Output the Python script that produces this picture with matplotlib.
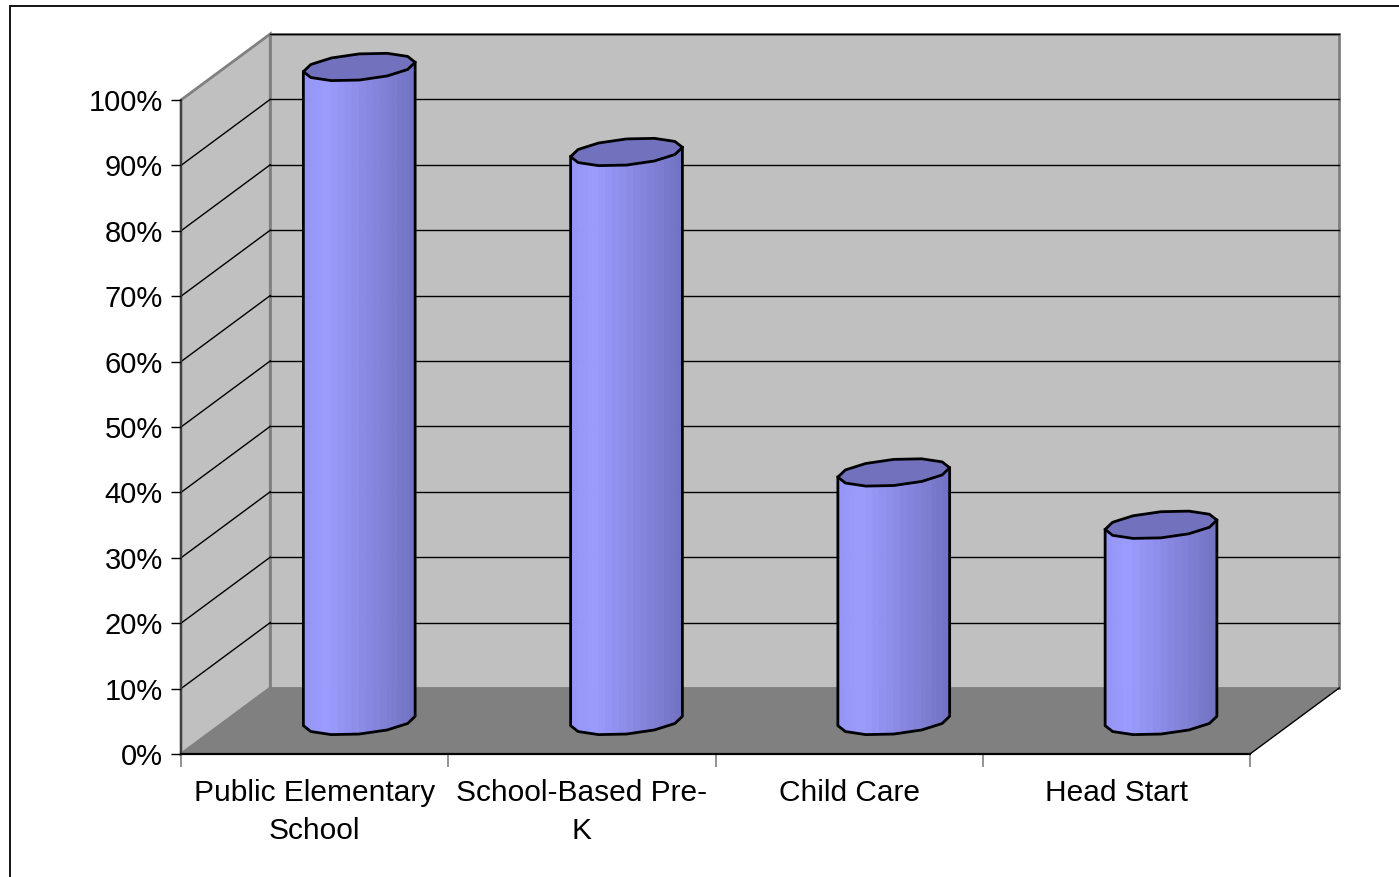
import numpy as np
import matplotlib.pyplot as plt
from matplotlib.patches import Polygon, Rectangle
from matplotlib.colors import to_rgb

# Data
categories = ["Public Elementary\nSchool", "School-Based Pre-\nK", "Child Care", "Head Start"]
values = [100, 87, 38, 30]  # percent
y_ticks = list(range(0, 101, 10))
y_tick_labels = [f"{v}%" for v in y_ticks]

# 3D look (oblique projection expressed in data units)
DX, DY = 0.334, 10.1     # depth offset: categories, percent
R = 0.197                # cylinder radius (category units)
F = 0.21                 # cylinder radius as fraction of depth
N_SIDES = 12

WALL = "#c0c0c0"
FLOOR = "#808080"
TOP = "#7171be"
side_stops = [0.0, 0.2, 1.0]
side_cols = [to_rgb(c) for c in ["#9494f4", "#9c9cff", "#7272c2"]]

plt.rcParams["font.family"] = ["Liberation Sans", "DejaVu Sans"]

fig = plt.figure(figsize=(13.99, 8.77), dpi=100)
W, H = 1399, 877
ax = fig.add_axes([181 / W, 123 / H, 1069 / W, 654 / H])
ax.set_xlim(0, len(categories))
ax.set_ylim(0, 100)
ax.patch.set_visible(False)
ncat = len(categories)

# walls and floor
ax.add_patch(Polygon([(0, 0), (0, 100), (DX, 100 + DY), (DX, DY)], closed=True,
                     fc=WALL, ec="#808080", lw=2, clip_on=False, zorder=0.5))
ax.add_patch(Polygon([(DX, DY), (ncat + DX, DY), (ncat + DX, 100 + DY), (DX, 100 + DY)], closed=True,
                     fc=WALL, ec="#808080", lw=2, clip_on=False, zorder=0.5))
ax.add_patch(Polygon([(0, 0), (ncat, 0), (ncat + DX, DY), (DX, DY)], closed=True,
                     fc=FLOOR, ec="none", clip_on=False, zorder=0.6))
ax.plot([ncat, ncat + DX], [0, DY], color="black", lw=1, clip_on=False, zorder=0.7)

# gridlines across left wall and back wall
for v in y_ticks[1:]:
    if v < 100:
        ax.plot([0, DX], [v, v + DY], color="black", lw=1, clip_on=False, zorder=0.8)
    ax.plot([DX, ncat + DX], [v + DY, v + DY], color="black", lw=1, clip_on=False, zorder=0.8)


def ring(cx, cy, t):
    return cx + R * np.cos(t) + F * DX * np.sin(t), cy + F * DY * np.sin(t)


t0 = np.arctan2(F * DX, R)
for i, v in enumerate(values):
    cx = i + 0.5 + DX / 2
    base = DY / 2
    top = v + DY / 2
    # front visible facets, from left silhouette to right silhouette
    tf = t0 + np.pi + np.arange(N_SIDES // 2 + 1) * 2 * np.pi / N_SIDES
    bx, by = ring(cx, base, tf)
    _, ty = ring(cx, top, tf)
    xmin, xmax = bx.min(), bx.max()
    for k in range(len(tf) - 1):
        for s in np.linspace(0, 1, 5)[:-1]:
            s2 = s + 0.25
            xa = bx[k] + (bx[k + 1] - bx[k]) * s
            xb = bx[k] + (bx[k + 1] - bx[k]) * s2
            yba = by[k] + (by[k + 1] - by[k]) * s
            ybb = by[k] + (by[k + 1] - by[k]) * s2
            yta = ty[k] + (ty[k + 1] - ty[k]) * s
            ytb = ty[k] + (ty[k + 1] - ty[k]) * s2
            u = ((xa + xb) / 2 - xmin) / (xmax - xmin)
            col = [np.interp(u, side_stops, [c[j] for c in side_cols]) for j in range(3)]
            ax.add_patch(Polygon([(xa, yba), (xb, ybb), (xb, ytb), (xa, yta)], closed=True,
                                 fc=col, ec=col, lw=0.6, clip_on=False, zorder=2))
    # outline of the side
    ox = np.concatenate([[bx[0]], bx, [bx[-1]]])
    oy = np.concatenate([[ty[0]], by, [ty[-1]]])
    ax.plot(ox, oy, color="black", lw=2, clip_on=False, zorder=3, solid_joinstyle="round")
    # top face
    tt = t0 + np.arange(N_SIDES) * 2 * np.pi / N_SIDES
    px, py = ring(cx, top, tt)
    ax.add_patch(Polygon(np.column_stack([px, py]), closed=True, fc=TOP, ec="black",
                         lw=2, clip_on=False, zorder=3, joinstyle="round"))

# axes
for s in ["top", "right"]:
    ax.spines[s].set_visible(False)
ax.spines["left"].set_color("#404040")
ax.spines["left"].set_linewidth(1.5)
ax.spines["bottom"].set_color("black")
ax.spines["bottom"].set_linewidth(1.6)
ax.spines["left"].set_zorder(1)

ax.set_yticks(y_ticks)
ax.set_yticklabels(y_tick_labels)
ax.tick_params(axis="y", direction="out", length=7, width=1, pad=6, labelsize=21)

ax.set_xticks(range(ncat + 1))
ax.set_xticklabels([])
ax.tick_params(axis="x", which="major", direction="out", length=9, width=1.2, color="#808080")
ax.set_xticks([i + 0.5 for i in range(ncat)], minor=True)
ax.set_xticklabels(categories, minor=True, linespacing=1.45)
ax.tick_params(axis="x", which="minor", length=0, pad=18, labelsize=21.5)

# chart border
fig.add_artist(Rectangle((10 / W, -0.1), 1.2, 1.1 - 6 / H, transform=fig.transFigure,
                         fill=False, ec="black", lw=1.3))

fig.savefig("out.png", dpi=100)
